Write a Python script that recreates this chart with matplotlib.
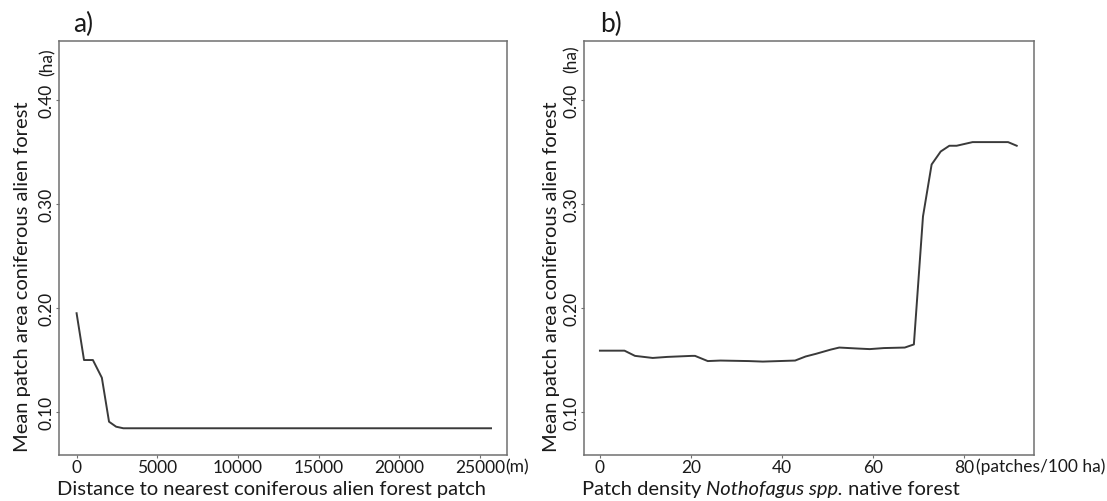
import matplotlib
matplotlib.use("Agg")
import matplotlib.pyplot as plt

plt.rcParams['font.family'] = ['Lato', 'DejaVu Sans']

# Panel a data: distance (m) vs mean patch area (ha)
a_x = [0, 460, 1010, 1565, 2010, 2450, 2895, 25680]
a_y = [0.195, 0.150, 0.150, 0.133, 0.0907, 0.0859, 0.0844, 0.0844]

# Panel b data: patch density (patches/100 ha) vs mean patch area (ha)
b_x = [0, 5.4, 7.7, 11.6, 14.8, 20.2, 20.9, 23.7, 26.5, 32.7, 35.8, 42.9,
       45.2, 47.5, 50.7, 52.6, 56.9, 59.3, 62.4, 67.0, 69.0, 71.0, 72.9,
       74.9, 76.8, 78.4, 81.9, 89.7, 91.6]
b_y = [0.159, 0.159, 0.154, 0.152, 0.153, 0.154, 0.154, 0.149, 0.1495,
       0.149, 0.1485, 0.1495, 0.1534, 0.156, 0.160, 0.162, 0.161, 0.1605,
       0.1615, 0.162, 0.165, 0.288, 0.338, 0.3505, 0.356, 0.356, 0.3595,
       0.3595, 0.356]

y_ticks = [0.10, 0.20, 0.30, 0.40]
y_ticklabels = ["0.10", "0.20", "0.30", "0.40"]
a_xticks = [0, 5000, 10000, 15000, 20000, 25000]
a_xticklabels = ["0", "5000", "10000", "15000", "20000", "25000"]
b_xticks = [0, 20, 40, 60, 80]
b_xticklabels = ["0", "20", "40", "60", "80"]

W, H = 1107, 502
fig = plt.figure(figsize=(W / 100, H / 100), dpi=100)


def box(l, t, r, b):
    return [l / W, 1 - b / H, (r - l) / W, (b - t) / H]


def px(x, y):
    return (x / W, 1 - y / H)


LINE = '#3a3a3a'
FRAME = '#707070'
TXT = '#1a1a1a'
TICKFS = 12.5
LABFS = 14.5


def style(ax, xlim, xticks, xticklabels):
    ax.set_xlim(*xlim)
    ax.set_ylim(0.0587, 0.4567)
    ax.set_xticks(xticks)
    ax.set_xticklabels(xticklabels, fontsize=TICKFS, color=TXT)
    ax.set_yticks(y_ticks)
    ax.set_yticklabels(y_ticklabels, fontsize=TICKFS, color=TXT,
                       rotation=90, va='center')
    ax.tick_params(length=2, width=0.8, pad=1.0, color=FRAME)
    for s in ax.spines.values():
        s.set_color(FRAME)
        s.set_linewidth(1.1)


# Panel a
ax1 = fig.add_axes(box(59, 42, 507, 456))
ax1.plot(a_x, a_y, color=LINE, lw=1.4)
style(ax1, (-1090, 26670), a_xticks, a_xticklabels)

# Panel b
ax2 = fig.add_axes(box(584, 42, 1034, 456))
ax2.plot(b_x, b_y, color=LINE, lw=1.4)
style(ax2, (-3.5, 95.4), b_xticks, b_xticklabels)

ylab = "Mean patch area coniferous alien forest"
fig.text(*px(23, 277), ylab, rotation=90, ha='center', va='center',
         fontsize=LABFS, color=TXT)
fig.text(*px(551, 277), ylab, rotation=90, ha='center', va='center',
         fontsize=LABFS, color=TXT)

fig.text(*px(271.5, 490), "Distance to nearest coniferous alien forest patch",
         ha='center', va='center', fontsize=LABFS, color=TXT)

# Mixed-style x label for panel b
fig.canvas.draw()
r = fig.canvas.get_renderer()
t1 = fig.text(*px(582, 490), "Patch density ", ha='left', va='center',
              fontsize=LABFS, color=TXT)
bb = t1.get_window_extent(renderer=r)
t2 = fig.text(bb.x1 / W, 1 - 490 / H, "Nothofagus spp.", ha='left', va='center',
              fontsize=LABFS, color=TXT, style='italic')
bb2 = t2.get_window_extent(renderer=r)
fig.text(bb2.x1 / W, 1 - 490 / H, " native forest", ha='left', va='center',
         fontsize=LABFS, color=TXT)

fig.text(*px(505, 467), "(m)", ha='left', va='center', fontsize=TICKFS, color=TXT)
fig.text(*px(976, 467), "(patches/100 ha)", ha='left', va='center',
         fontsize=TICKFS, color=TXT)
fig.text(*px(48, 62), "(ha)", rotation=90, ha='center', va='center',
         fontsize=TICKFS, color=TXT)
fig.text(*px(572, 59), "(ha)", rotation=90, ha='center', va='center',
         fontsize=TICKFS, color=TXT)

fig.text(*px(73, 24), "a)", ha='left', va='center', fontsize=19, color=TXT)
fig.text(*px(600, 24), "b)", ha='left', va='center', fontsize=19, color=TXT)

fig.savefig("out.png", dpi=100)
